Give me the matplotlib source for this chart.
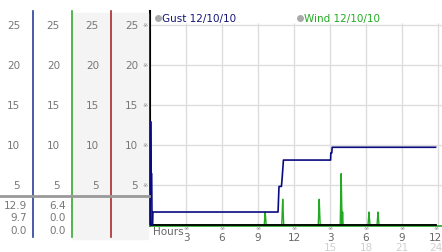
import matplotlib
matplotlib.use("Agg")
import matplotlib.pyplot as plt
from matplotlib.lines import Line2D
from matplotlib.patches import Rectangle
from matplotlib import transforms

# wind / gust readings, knots, hours since midnight 12/10/10
gust_t = [0.0, 0.03, 0.07, 0.10, 0.14, 0.17, 0.22, 0.24, 10.67, 10.75, 10.95, 11.0, 11.12,
          15.05, 15.07, 15.15, 15.18, 23.8]
gust_v = [0.0, 12.9, 12.9, 6.4, 6.4, 0.0, 0.0, 1.6, 1.6, 4.8, 4.8, 5.6, 8.1,
          8.1, 9.0, 9.0, 9.7, 9.7]

wind_t = [0.0, 9.52, 9.56, 9.6, 9.64, 9.68, 10.98, 11.02, 11.06, 11.1, 11.14,
          14.02, 14.06, 14.1, 14.14, 14.18, 15.85, 15.89, 15.93, 15.97, 16.01, 16.05, 16.09, 16.13,
          18.17, 18.21, 18.25, 18.29, 18.33, 18.92, 18.96, 19.0, 19.04, 19.08, 23.8]
wind_v = [0.0, 0.0, 0.8, 1.6, 0.8, 0.0, 0.0, 1.6, 3.2, 1.6, 0.0,
          0.0, 1.6, 3.2, 1.6, 0.0, 0.0, 3.2, 6.4, 3.2, 0.0, 1.6, 0.0, 0.0,
          0.0, 0.8, 1.6, 0.8, 0.0, 0.0, 0.8, 1.6, 0.8, 0.0, 0.0]

y_ticks = [5, 10, 15, 20, 25]
x_ticks = [3, 6, 9, 12, 15, 18, 21, 24]
x_labels = ["3", "6", "9", "12", "3", "6", "9", "12"]
x_labels_24 = ["15", "18", "21", "24"]
gust_stats = ["12.9", "9.7", "0.0"]
wind_stats = ["6.4", "0.0", "0.0"]

W, H = 442, 253
fig = plt.figure(figsize=(W / 100, H / 100), dpi=100)
fx = lambda x: x / W
fy = lambda y: (H - y) / H

ax = fig.add_axes([fx(150), fy(227), fx(442) - fx(150), fy(12) - fy(227)])
ax.set_xlim(0, 292 / 12)
ax.set_ylim(-0.15, 26.75)
for s in ["top", "right"]:
    ax.spines[s].set_visible(False)
ax.spines["left"].set_color("black")
ax.spines["left"].set_linewidth(1.5)
ax.spines["bottom"].set_color("#22aa22")
ax.spines["bottom"].set_linewidth(1.2)
ax.set_xticks([])
ax.set_yticks([])

# grid
ax.hlines(y_ticks, 0, 292 / 12, color="#dddddd", lw=1, zorder=0)
ax.vlines(x_ticks, 0, 25.3, color="#dddddd", lw=1, zorder=0)

ax.plot(wind_t, wind_v, color="#22aa22", lw=1, zorder=2)
ax.axhline(0, xmax=23.85 / (292 / 12), color="black", lw=1.3, zorder=3)
ax.plot(gust_t, gust_v, color="#0a0a80", lw=1.2, zorder=4)

# legend
ax.plot([0.68], [25.9], "o", ms=4, color="#aaaaaa", clip_on=False)
ax.text(1.0, 25.9, "Gust 12/10/10", color="#141478", fontsize=7.5, va="center")
ax.plot([12.5], [25.9], "o", ms=4, color="#aaaaaa", clip_on=False)
ax.text(12.8, 25.9, "Wind 12/10/10", color="#22aa22", fontsize=7.5, va="center")

# x labels
xt = transforms.blended_transform_factory(ax.transData, fig.transFigure)
for t, lab in zip(x_ticks, x_labels):
    tx = min(t, 23.8)
    ax.text(tx, fy(229), "\u203b", fontsize=4.5, color="#888888", ha="center", va="center", transform=xt)
    ax.text(tx, fy(238.5), lab, fontsize=7.5, color="#666666", ha="center", va="center", transform=xt)
for t, lab in zip(x_ticks[4:], x_labels_24):
    ax.text(min(t, 23.8), fy(248), lab, fontsize=7.5, color="#d0d0d0", ha="center", va="center", transform=xt)
ax.text(0.25, fy(232.5), "Hours", fontsize=7.5, color="#666666", ha="left", va="center", transform=xt)

# left panel
fig.patches.append(Rectangle((fx(72), fy(240)), fx(148) - fx(72), fy(14) - fy(240),
                             transform=fig.transFigure, color="#f4f4f4", zorder=0))
for x, c in [(33, "#2a3f99"), (72, "#33aa33"), (111, "#aa2a2a")]:
    fig.add_artist(Line2D([fx(x), fx(x)], [fy(238), fy(12)], color=c, lw=1.2))
fig.add_artist(Line2D([0, fx(149)], [fy(197), fy(197)], color="#999999", lw=2))

yt = transforms.blended_transform_factory(fig.transFigure, ax.transData)
for v in y_ticks:
    for x in [20, 60, 99, 138]:
        fig.text(fx(x), v, str(v), fontsize=7.5, color="#777777", ha="right", va="center", transform=yt)
    fig.text(fx(145), v, "\u203b", fontsize=4.5, color="#888888", ha="center", va="center", transform=yt)

for i, (g, w) in enumerate(zip(gust_stats, wind_stats)):
    y = 206 + i * 12.5
    fig.text(fx(27), fy(y), g, fontsize=7.5, color="#777777", ha="right", va="center")
    fig.text(fx(66), fy(y), w, fontsize=7.5, color="#777777", ha="right", va="center")

fig.savefig("out.png", dpi=100)
